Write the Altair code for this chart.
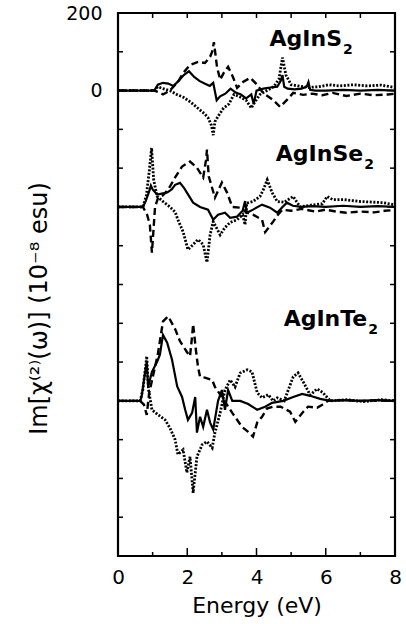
import altair as alt
import pandas as pd

# ---------------- data ----------------
# AgInS2
S_solid_E = [0, 1.05, 1.15, 1.3, 1.45, 1.6, 1.75, 1.9, 2.05, 2.2, 2.35, 2.5, 2.65, 2.75, 2.85, 2.95, 3.1, 3.25, 3.4, 3.55,
             3.7, 3.85, 3.92, 4.0, 4.2, 4.4, 4.6, 4.7, 4.75, 4.8, 4.9, 5.1, 5.3, 5.45, 5.5, 5.55, 5.7, 6.0, 6.5, 7.0, 7.5, 8.0]
S_solid_V = [0, 0, 15, 20, 18, 12, 25, 40, 50, 35, 25, 18, 12, 20, -25, -15, -8, 5, -5, -10,
             -20, -10, -35, 0, 5, 8, 10, 25, 40, 10, 5, 3, 5, 10, 22, 2, 0, 0, 2, 0, 2, 0]
S_dot_E = [0, 1.05, 1.15, 1.3, 1.5, 1.7, 1.9, 2.1, 2.3, 2.5, 2.6, 2.7, 2.75, 2.8, 2.9, 3.05, 3.2, 3.35, 3.5, 3.7,
           3.85, 3.95, 4.1, 4.3, 4.5, 4.65, 4.75, 4.85, 5.0, 5.2, 5.5, 5.8, 6.1, 6.4, 6.8, 7.2, 7.6, 8.0]
S_dot_V = [0, 0, 10, 5, 0, -10, -18, -30, -45, -60, -70, -90, -115, -80, -65, -45, -35, -10, -15, -25,
           -45, -30, -10, 0, 10, 30, 85, 40, 15, 12, 8, 10, 15, 12, 15, 12, 14, 8]
S_dash_E = [0, 1.05, 1.2, 1.3, 1.4, 1.55, 1.75, 1.88, 2.08, 2.2, 2.31, 2.51, 2.66, 2.72, 2.77, 2.86, 2.95, 3.05, 3.18, 3.32,
            3.44, 3.61, 3.82, 4.02, 4.19, 4.48, 4.68, 4.88, 5.06, 5.35, 5.6, 5.9, 6.2, 6.6, 7.0, 7.4, 7.8, 8.0]
S_dash_V = [0, 0, -5, -10, -5, 5, 25, 45, 66, 70, 74, 71, 87, 100, 125, 61, 28, 45, 61, 35,
            7, 22, 33, 15, -6, -24, -42, -24, -6, -11, -8, -12, -6, -14, -8, -12, -10, -8]

# AgInSe2
Se_solid_E = [0, 0.72, 0.8, 0.9, 0.95, 1.0, 1.13, 1.3, 1.42, 1.55, 1.65, 1.79, 1.9, 1.99, 2.17, 2.37, 2.6, 2.75, 2.89, 3.09,
              3.24, 3.44, 3.6, 3.67, 3.72, 3.9, 4.16, 4.39, 4.6, 4.75, 4.88, 5.05, 5.3, 5.6, 6.0, 6.5, 7.0, 7.5, 8.0]
Se_solid_V = [0, 0, 15, 40, 55, 45, 32, 35, 37, 45, 57, 62, 50, 37, 11, 0, -7, -33, -20, -15,
              -28, -25, -10, 15, -15, -7, 6, -2, -15, 0, 11, 3, 0, 2, 0, 3, 0, 2, 0]
Se_dot_E = [0, 0.72, 0.82, 0.9, 0.97, 1.03, 1.13, 1.3, 1.5, 1.65, 1.73, 1.88, 2.02, 2.17, 2.31, 2.46, 2.57, 2.66, 2.75, 2.95,
            3.09, 3.24, 3.44, 3.6, 3.67, 3.72, 3.9, 4.1, 4.2, 4.31, 4.45, 4.6, 4.8, 5.06, 5.26, 5.6, 5.9, 6.04, 6.2, 6.5,
            7.0, 7.66, 8.0]
Se_dot_V = [0, 0, 30, 90, 152, 70, 27, 14, 0, -13, -33, -64, -110, -97, -84, -97, -143, -72, -38, -72,
            -53, -40, -33, -20, -46, 10, 14, 27, 45, 70, 37, 14, 12, 27, 0, 5, 8, 27, 19, 19,
            14, 11, 5]
Se_dash_E = [0, 0.72, 0.84, 0.92, 0.98, 1.07, 1.16, 1.3, 1.45, 1.65, 1.85, 2.08, 2.28, 2.46, 2.54, 2.57, 2.62, 2.8, 3.0, 3.15,
             3.3, 3.53, 3.73, 3.9, 4.16, 4.25, 4.48, 4.62, 4.75, 5.0, 5.3, 5.7, 6.0, 6.3, 6.6, 7.0, 7.4, 7.7, 8.0]
Se_dash_V = [0, 0, -20, -46, -118, 0, 24, 30, 45, 76, 104, 117, 101, 76, 120, 148, 79, 24, 63, 37,
             0, -2, -15, -20, -33, -65, -38, -20, -7, -10, -5, -12, -7, -12, -15, -12, -14, -10, -8]

# AgInTe2
Te_solid_E = [0, 0.64, 0.68, 0.78, 0.83, 0.87, 0.98, 1.13, 1.21, 1.3, 1.42, 1.56, 1.71, 1.85, 1.94, 2.02, 2.14, 2.23, 2.28, 2.37,
              2.46, 2.57, 2.66, 2.75, 2.89, 3.0, 3.09, 3.18, 3.3, 3.53, 3.76, 4.02, 4.25, 4.45, 4.77, 5.06, 5.32, 5.55, 5.84, 6.13,
              6.5, 7.0, 7.5, 8.0]
Te_solid_V = [0, 0, 10, 72, 100, 36, 75, 101, 119, 170, 150, 106, 37, 10, -23, -49, -31, 10, -82, -41,
              -67, -23, -56, -74, 0, 28, -23, 28, 0, 0, -8, -23, -15, -5, 0, 10, 18, 13, 5, 0,
              2, 0, 2, 0]
Te_dot_E = [0, 0.64, 0.72, 0.8, 0.83, 0.88, 0.98, 1.16, 1.36, 1.5, 1.65, 1.73, 1.88, 1.99, 2.08, 2.17, 2.28, 2.43, 2.57, 2.72,
            2.8, 2.95, 3.09, 3.24, 3.38, 3.53, 3.73, 3.87, 4.02, 4.16, 4.34, 4.48, 4.6, 4.8, 5.06, 5.2, 5.35, 5.55, 5.75, 5.92,
            6.13, 6.6, 7.1, 7.6, 8.0]
Te_dot_V = [0, 0, 30, 90, 115, 30, -23, -36, -49, -70, -100, -138, -126, -185, -144, -237, -144, -113, -105, -121,
            -82, -31, 28, 54, 36, 72, 80, 75, 21, 8, 16, 0, 8, 0, 62, 72, 49, 15, 31, 21,
            0, 3, -2, 3, 0]
Te_dash_E = [0, 0.64, 0.75, 0.83, 0.9, 1.0, 1.15, 1.3, 1.45, 1.65, 1.79, 1.99, 2.08, 2.14, 2.17, 2.25, 2.31, 2.37, 2.51, 2.72,
             2.8, 3.0, 3.3, 3.58, 3.76, 3.9, 4.02, 4.16, 4.3, 4.48, 4.7, 4.97, 5.12, 5.35, 5.49, 5.75, 5.9, 6.07, 6.5, 7.0,
             7.5, 8.0]
Te_dash_V = [0, 0, -10, -36, 20, 60, 120, 205, 218, 185, 154, 126, 115, 167, 198, 131, 88, 62, 60, 54,
             36, 10, -31, -67, -80, -92, -56, -41, -20, -15, -15, -28, -54, -28, -15, -18, -10, 0, 2, 0,
             1, 0]

offsets = {"AgInS2": 0, "AgInSe2": -300, "AgInTe2": -800}

series = [
    ("AgInS2", "solid", S_solid_E, S_solid_V),
    ("AgInS2", "dotted", S_dot_E, S_dot_V),
    ("AgInS2", "dashed", S_dash_E, S_dash_V),
    ("AgInSe2", "solid", Se_solid_E, Se_solid_V),
    ("AgInSe2", "dotted", Se_dot_E, Se_dot_V),
    ("AgInSe2", "dashed", Se_dash_E, Se_dash_V),
    ("AgInTe2", "solid", Te_solid_E, Te_solid_V),
    ("AgInTe2", "dotted", Te_dot_E, Te_dot_V),
    ("AgInTe2", "dashed", Te_dash_E, Te_dash_V),
]

rows = []
for comp, style, es, vs in series:
    for e, v in zip(es, vs):
        rows.append({"E": e, "V": v + offsets[comp], "compound": comp, "style": style})
df = pd.DataFrame(rows)

# label annotations
label_names = ["AgInS", "AgInSe", "AgInTe"]
label_E = [6.47, 7.08, 7.2]
label_V = [115, -181, -608]
labels = pd.DataFrame({"name": label_names, "E": label_E, "V": label_V, "sub": ["2", "2", "2"]})

y_tick_vals = list(range(-1100, 200, 100))
y_major = [0, -300, -800]
ytick_minor = pd.DataFrame({"V": [v for v in y_tick_vals if v not in y_major]})
ytick_major = pd.DataFrame({"V": y_major})
xtick_minor = pd.DataFrame({"E": [1, 3, 5, 7]})
xtick_major = pd.DataFrame({"E": [2, 4, 6]})
xtick_all = pd.DataFrame({"E": [1, 2, 3, 4, 5, 6, 7]})

W, H = 277, 543
FONT = "DejaVu Sans"

xscale = alt.Scale(domain=[0, 8], nice=False, zero=False)
yscale = alt.Scale(domain=[-1200, 200], nice=False, zero=False)

X = alt.X("E:Q", scale=xscale,
          axis=alt.Axis(values=[0, 2, 4, 6, 8], title="Energy (eV)", grid=False, ticks=False, tickSize=0,
                        domain=False, labelFont=FONT, labelFontSize=20, labelColor="black",
                        labelPadding=27, labelBaseline="alphabetic", labelFlush=False, labelOverlap=False,
                        titleFont=FONT, titleFontSize=22, titleFontWeight="normal", titleColor="black",
                        titleY=56, titleBaseline="alphabetic"))
Y = alt.Y("V:Q", scale=yscale,
          axis=alt.Axis(values=[200, 0], title="Im[χ⁽²⁾(ω)] (10⁻⁸ esu)", grid=False, ticks=False, tickSize=0,
                        domain=False, labelFont=FONT, labelFontSize=19, labelColor="black",
                        labelPadding=16, labelFlush=False, labelOverlap=False,
                        titleFont=FONT, titleFontSize=24, titleFontWeight="normal", titleColor="black",
                        titleX=-67, titleY=295, titleAngle=270, titleBaseline="bottom", titleAlign="center"))

base = alt.Chart(df)
solid = base.transform_filter(alt.datum.style == "solid").mark_line(
    color="black", strokeWidth=2.2).encode(x=X, y=Y, detail="compound:N")
dashed = base.transform_filter(alt.datum.style == "dashed").mark_line(
    color="black", strokeWidth=2.4, strokeDash=[7, 4]).encode(x=X, y=Y, detail="compound:N")
dotted = base.transform_filter(alt.datum.style == "dotted").mark_line(
    color="black", strokeWidth=2.8, strokeDash=[2, 1.6]).encode(x=X, y=Y, detail="compound:N")

rule = dict(color="black", strokeWidth=1.5)
lt_min = alt.Chart(ytick_minor).mark_rule(**rule).encode(y=Y, x=alt.value(0), x2=alt.value(5))
lt_maj = alt.Chart(ytick_major).mark_rule(**rule).encode(y=Y, x=alt.value(0), x2=alt.value(8))
rt_min = alt.Chart(ytick_minor).mark_rule(**rule).encode(y=Y, x=alt.value(W - 5), x2=alt.value(W))
rt_maj = alt.Chart(ytick_major).mark_rule(**rule).encode(y=Y, x=alt.value(W - 8), x2=alt.value(W))
bt_min = alt.Chart(xtick_minor).mark_rule(**rule).encode(x=X, y=alt.value(H - 4), y2=alt.value(H))
bt_maj = alt.Chart(xtick_major).mark_rule(**rule).encode(x=X, y=alt.value(H - 8), y2=alt.value(H))
tp = alt.Chart(xtick_all).mark_rule(**rule).encode(x=X, y=alt.value(0), y2=alt.value(5))

lab = alt.Chart(labels).mark_text(align="right", baseline="alphabetic", font=FONT, fontWeight="bold",
                                  fontSize=22, color="black").encode(x=X, y=Y, text="name:N")
sub = alt.Chart(labels).mark_text(align="left", baseline="alphabetic", font=FONT, fontWeight="bold",
                                  fontSize=14, color="black", dx=1, dy=8).encode(x=X, y=Y, text="sub:N")

chart = alt.layer(
    solid, dashed, dotted, lt_min, lt_maj, rt_min, rt_maj, bt_min, bt_maj, tp, lab, sub
).properties(
    width=W, height=H,
    background="white",
    autosize=alt.AutoSizeParams(type="none"),
    padding={"left": 118, "top": 13, "right": 11, "bottom": 68},
).configure_view(stroke="black", strokeWidth=2.2)

chart.save("out.html", embed_options={"renderer": "svg", "actions": False})
